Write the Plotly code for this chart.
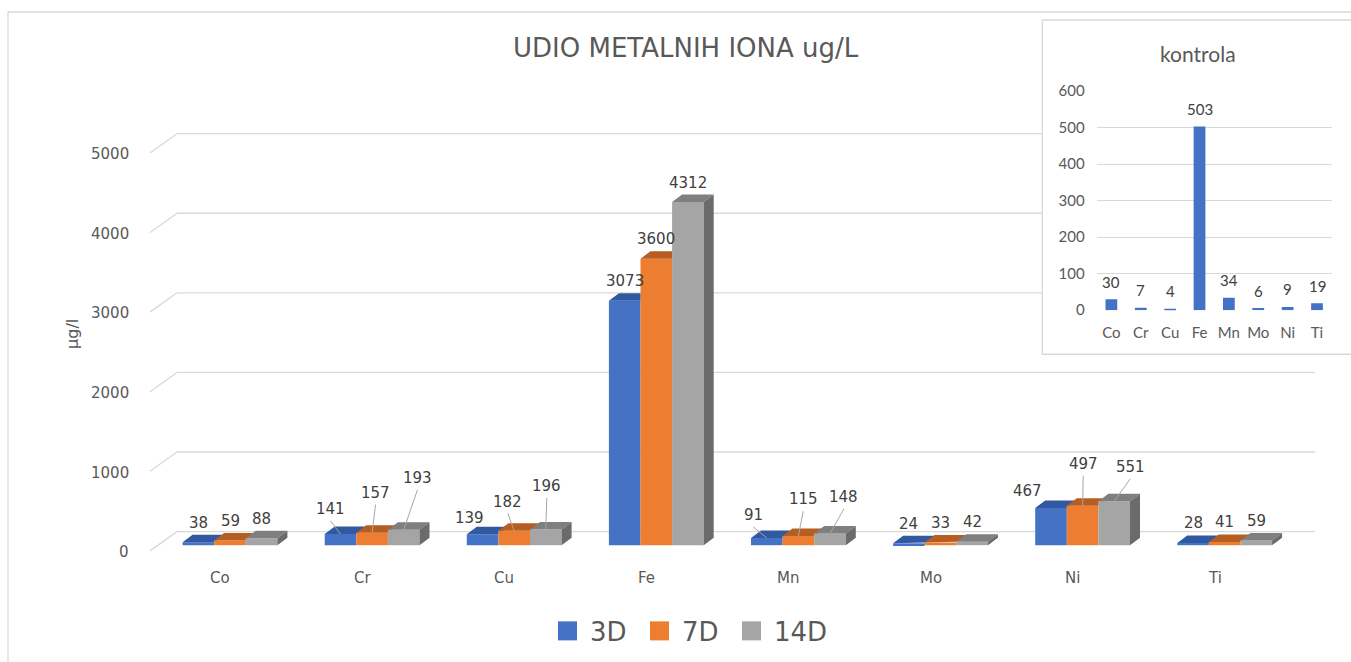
import plotly.graph_objects as go

# ---------------- data ----------------
categories = ["Co", "Cr", "Cu", "Fe", "Mn", "Mo", "Ni", "Ti"]
series_names = ["3D", "7D", "14D"]
vals_3d = [38, 141, 139, 3073, 91, 24, 467, 28]
vals_7d = [59, 157, 182, 3600, 115, 33, 497, 41]
vals_14d = [88, 193, 196, 4312, 148, 42, 551, 59]
y_ticks = [0, 1000, 2000, 3000, 4000, 5000]

control_vals = [30, 7, 4, 503, 34, 6, 9, 19]
control_ticks = [0, 100, 200, 300, 400, 500, 600]

# ---------------- style / layout config ----------------
W, H = 1351, 662
# observed mapping page-y -> picture-y in the photographing step: pic = OFF + SC * page
PIC_OFF, PIC_SC = 9.0, 0.973
front_colors = ["#4472C4", "#ED7D31", "#A5A5A5"]
top_colors = ["#30599F", "#B65D22", "#7F7F7F"]
side_color = "#6B6B6B"
grid_color = "#D9D9D9"
text_col = "#595959"
label_col = "#404040"
MAIN_FONT = "DejaVu Sans"
INSET_FONT = "Lato"


def page_y(y_pic):
    return (y_pic - PIC_OFF) / PIC_SC


def paper_y(y_pic):
    return 1 - page_y(y_pic) / H


# geometry of the main (pseudo-3D) chart, in picture pixels
CAT0_PX = 230.0
PX_PER_CAT = 142.1
BASE_PX = 544.3
PX_PER_UNIT = 0.0796
BAR_W = 31.6 / PX_PER_CAT
DEPTH_DX_PX, DEPTH_DY_PX = 10.0, 7.5
BACK_WALL_DY_PX = 13.6
FLOOR_FRONT_DY_PX = -5.7
GRID_X_BACK_PX, GRID_X_FRONT_PX, GRID_X_END_PX = 177.0, 150.0, 1315.0
INSET_BOX = (1042.3, 19.0, 1362.0, 353.3)


def ux(px):
    return px / PX_PER_CAT


def uy(px):
    return px / PX_PER_UNIT


def xdata(px):
    return (px - CAT0_PX) / PX_PER_CAT


def ydata_from_pic(y_pic):
    return (BASE_PX - y_pic) / PX_PER_UNIT


DX, DY = ux(DEPTH_DX_PX), uy(DEPTH_DY_PX)

label_moves = {
    ("Cr", 0): (-10, 5.6, True), ("Cr", 1): (3.5, 20.6, True), ("Cr", 2): (13.8, 32.7, True),
    ("Cu", 0): (-13, -3.6, False), ("Cu", 1): (-6.3, 9.6, True), ("Cu", 2): (1, 24.2, True),
    ("Mn", 0): (-13.6, 3.6, True), ("Mn", 1): (4.8, 17.3, True), ("Mn", 2): (13.9, 17, True),
    ("Ni", 0): (-24, -2.4, False), ("Ni", 1): (0.6, 22.5, True), ("Ni", 2): (16, 15, True),
}
LABEL_UP_PX = 19.5

fig = go.Figure()
all_series = [vals_3d, vals_7d, vals_14d]
idx = list(range(len(categories)))

for s, (name, vals) in enumerate(zip(series_names, all_series)):
    fig.add_trace(go.Bar(x=idx, y=vals, name=name, marker=dict(color=front_colors[s], line=dict(width=0)),
                         showlegend=False, xaxis="x", yaxis="y", hoverinfo="x+y+name"))

for s in range(3):
    xs, ys = [], []
    for i, v in enumerate(all_series[s]):
        x0 = i + (s - 1.5) * BAR_W
        x1 = x0 + BAR_W
        if s < 2:
            v2 = all_series[s + 1][i]
            pts = [(x0, v), (x1, v)]
            if v2 < v + DY:
                pts += [(x1, v2), (x1 + DX * (v2 - v) / DY, v2), (x1 + DX, v + DY)]
            else:
                pts += [(x1, v + DY)]
            pts += [(x0 + DX, v + DY)]
        else:
            pts = [(x0, v), (x1, v), (x1 + DX, v + DY), (x0 + DX, v + DY)]
        for px_, py_ in pts + [pts[0]]:
            xs.append(px_)
            ys.append(py_)
        xs.append(None)
        ys.append(None)
    fig.add_trace(go.Scatter(x=xs, y=ys, mode="lines", fill="toself", fillcolor=top_colors[s],
                             line=dict(width=0, color=top_colors[s]), showlegend=False,
                             hoverinfo="skip", xaxis="x", yaxis="y"))
xs, ys = [], []
for i, v in enumerate(all_series[2]):
    x1 = i + 1.5 * BAR_W
    pts = [(x1, 0), (x1, v), (x1 + DX, v + DY), (x1 + DX, DY), (x1, 0)]
    for px_, py_ in pts:
        xs.append(px_)
        ys.append(py_)
    xs.append(None)
    ys.append(None)
fig.add_trace(go.Scatter(x=xs, y=ys, mode="lines", fill="toself", fillcolor=side_color,
                         line=dict(width=0, color=side_color), showlegend=False,
                         hoverinfo="skip", xaxis="x", yaxis="y"))

shapes = []
annotations = []

for t in y_ticks:
    yb = t + uy(BACK_WALL_DY_PX)
    yb_px = BASE_PX - PX_PER_UNIT * t - BACK_WALL_DY_PX
    x_end_px = INSET_BOX[0] if INSET_BOX[1] <= yb_px <= INSET_BOX[3] else GRID_X_END_PX
    shapes.append(dict(type="line", xref="x", yref="y", layer="below",
                       x0=xdata(GRID_X_BACK_PX), x1=xdata(x_end_px), y0=yb, y1=yb,
                       line=dict(color=grid_color, width=1.3)))
    shapes.append(dict(type="line", xref="x", yref="y", layer="below",
                       x0=xdata(GRID_X_FRONT_PX), x1=xdata(GRID_X_BACK_PX),
                       y0=t + uy(FLOOR_FRONT_DY_PX), y1=yb,
                       line=dict(color=grid_color, width=1.3)))
    annotations.append(dict(x=xdata(131), y=t + uy(-7.0), xref="x", yref="y", text=f"{t}",
                            showarrow=False, xanchor="right", yanchor="middle",
                            font=dict(family=MAIN_FONT, size=15, color=text_col)))

for i, c in enumerate(categories):
    annotations.append(dict(x=i + ux(-10), y=uy(-32.7), xref="x", yref="y", text=c,
                            showarrow=False, xanchor="center", yanchor="middle",
                            font=dict(family=MAIN_FONT, size=15, color=text_col)))

for s in range(3):
    for i, v in enumerate(all_series[s]):
        cx = i + (s - 1) * BAR_W
        dxp, dyp, leader = label_moves.get((categories[i], s), (0, 0, False))
        lx = cx + ux(dxp)
        ly = v + uy(LABEL_UP_PX + dyp)
        annotations.append(dict(x=lx, y=ly, xref="x", yref="y", text=f"{v}", showarrow=False,
                                xanchor="center", yanchor="middle",
                                font=dict(family=MAIN_FONT, size=15, color=label_col)))
        if leader:
            shapes.append(dict(type="line", xref="x", yref="y", layer="above",
                               x0=lx, y0=v + uy(LABEL_UP_PX + dyp - 12), x1=cx, y1=v,
                               line=dict(color="#A6A6A6", width=1)))

annotations.append(dict(x=686 / W, y=paper_y(47), xref="paper", yref="paper",
                        text="UDIO METALNIH IONA ug/L", showarrow=False,
                        xanchor="center", yanchor="middle",
                        font=dict(family=MAIN_FONT, size=26, color=text_col)))
annotations.append(dict(x=73 / W, y=paper_y(333), xref="paper", yref="paper", text="µg/l",
                        showarrow=False, textangle=-90, xanchor="center", yanchor="middle",
                        font=dict(family=MAIN_FONT, size=16, color=text_col)))

leg_sq = [(558, 577), (650, 669), (742, 761)]
leg_tx = [588, 680, 771.7]
for s in range(3):
    shapes.append(dict(type="rect", xref="paper", yref="paper",
                       x0=leg_sq[s][0] / W, x1=leg_sq[s][1] / W,
                       y0=paper_y(639.5), y1=paper_y(620.5),
                       fillcolor=front_colors[s], line=dict(width=0)))
    annotations.append(dict(x=leg_tx[s] / W, y=paper_y(631), xref="paper", yref="paper",
                            text=series_names[s], showarrow=False, xanchor="left", yanchor="middle",
                            font=dict(family=MAIN_FONT, size=26, color=text_col)))

shapes.append(dict(type="rect", xref="paper", yref="paper", x0=8 / W, x1=1.02, y0=-0.05, y1=paper_y(11),
                   line=dict(color=grid_color, width=1.3), fillcolor="rgba(0,0,0,0)", layer="below"))
shapes.append(dict(type="rect", xref="paper", yref="paper",
                   x0=INSET_BOX[0] / W, x1=INSET_BOX[2] / W,
                   y0=paper_y(INSET_BOX[3]), y1=paper_y(INSET_BOX[1]),
                   line=dict(color=grid_color, width=1.3), fillcolor="rgba(0,0,0,0)", layer="below"))

fig.add_trace(go.Bar(x=categories, y=control_vals, name="kontrola", marker=dict(color="#4472C4", line=dict(width=0)),
                     showlegend=False, xaxis="x2", yaxis="y2", width=0.4))
for c, v in zip(categories, control_vals):
    annotations.append(dict(x=c, y=v, xref="x2", yref="y2", text=f"{v}", showarrow=False,
                            yshift=17 / PIC_SC, xanchor="center", yanchor="middle",
                            font=dict(family=INSET_FONT, size=15, color=label_col)))
annotations.append(dict(x=1197.7 / W, y=paper_y(52.7), xref="paper", yref="paper", text="kontrola",
                        showarrow=False, xanchor="center", yanchor="middle",
                        font=dict(family=INSET_FONT, size=21, color=text_col)))

fig.update_layout(
    width=W, height=H,
    margin=dict(l=0, r=0, t=0, b=0),
    paper_bgcolor="white", plot_bgcolor="white",
    barmode="group", bargap=1 - 3 * BAR_W, bargroupgap=0,
    showlegend=False,
    xaxis=dict(domain=[0, 1], range=[xdata(0), xdata(W)], visible=False, fixedrange=True),
    yaxis=dict(domain=[0, 1],
               range=[ydata_from_pic(PIC_OFF + PIC_SC * H), ydata_from_pic(PIC_OFF)],
               visible=False, fixedrange=True),
    xaxis2=dict(domain=[1096.7 / W, 1331.7 / W], anchor="y2", type="category",
                categoryorder="array", categoryarray=categories,
                showgrid=False, zeroline=False, showline=False, ticks="",
                ticklabelstandoff=12,
                tickfont=dict(family=INSET_FONT, size=15, color=text_col)),
    yaxis2=dict(domain=[paper_y(309.3), paper_y(90)], anchor="x2", range=[0, 600],
                tickvals=control_ticks, showgrid=True, gridcolor=grid_color, gridwidth=1.3,
                zeroline=False, showline=False, ticks="", ticklabelstandoff=11,
                tickfont=dict(family=INSET_FONT, size=15, color=text_col)),
    shapes=shapes,
    annotations=annotations,
)

post = (
    "document.documentElement.style.margin='0';"
    "document.documentElement.style.overflow='hidden';"
    "document.body.style.margin='0';"
    "document.body.style.overflow='hidden';"
    "var d=document.getElementById('{plot_id}');"
    "d.style.position='fixed';d.style.top='0px';d.style.left='0px';"
)
fig.write_html("out.html", config={"displayModeBar": False}, post_script=post)
